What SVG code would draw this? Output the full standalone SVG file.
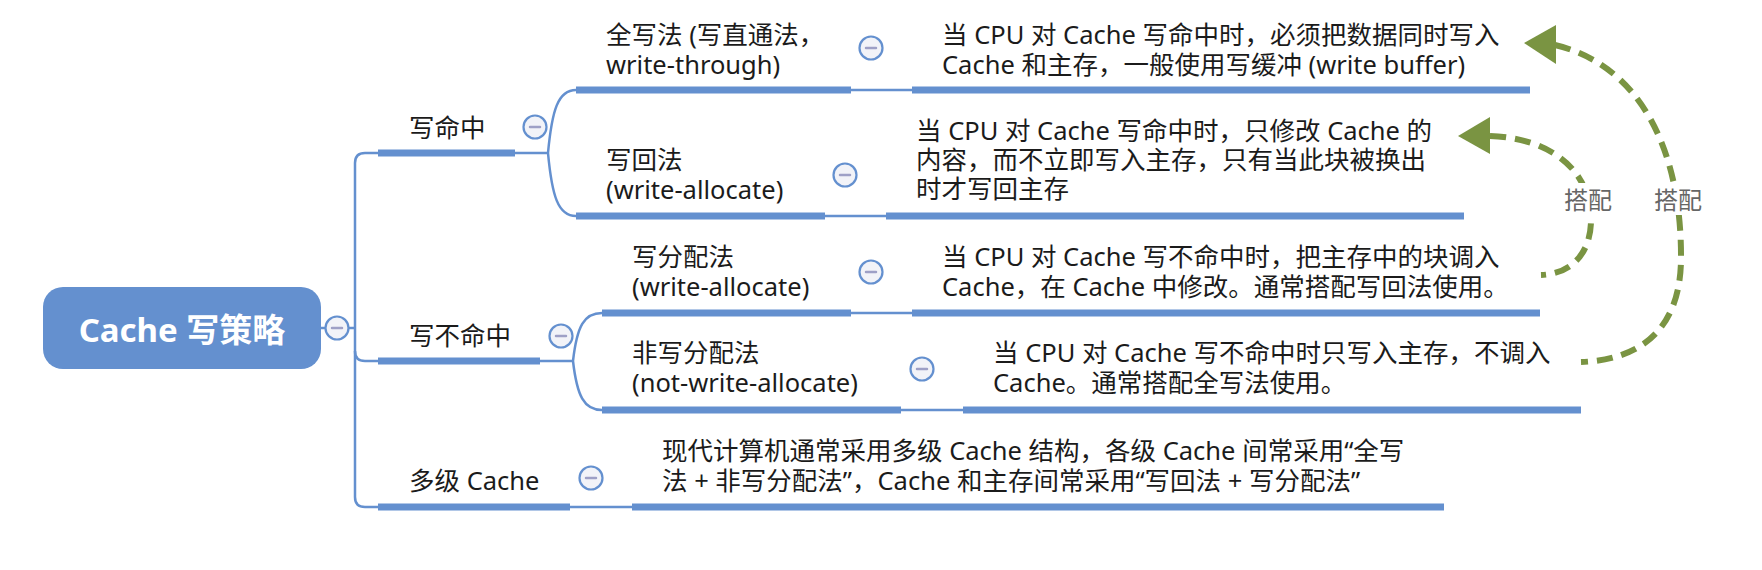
<svg xmlns="http://www.w3.org/2000/svg" width="1762" height="570" viewBox="0 0 1762 570">
<style>
.bar{fill:#6490CF}
.ln{fill:none;stroke:#6490CF;stroke-width:2.5}
.col circle{fill:#F2F3F8;stroke:#6490CF;stroke-width:2.2}
.col line{stroke:#9EA0C6;stroke-width:2.5;stroke-linecap:round}
.t{font-family:'Noto Sans','Noto Sans CJK SC',sans-serif;font-size:25.5px;fill:#1b1b1b}
.root{font-family:'Noto Sans','Noto Sans CJK SC',sans-serif;font-size:33px;font-weight:bold;fill:#ffffff}
.g{fill:none;stroke:#7A9442;stroke-width:6;stroke-dasharray:16 9}
.ah{fill:#7A9442}
.lbl{font-family:'Noto Sans','Noto Sans CJK SC',sans-serif;font-size:24px;fill:#666666}
</style>
<rect width="1762" height="570" fill="#ffffff"/>
<g id="connectors">
  <line class="ln" x1="321" y1="328" x2="355" y2="328"/>
  <path class="ln" d="M378,153 L365,153 Q355,153 355,163 L355,497 Q355,507 365,507 L378,507"/>
  <path class="ln" d="M355,351 Q355,361 365,361 L378,361"/>
  <path class="ln" d="M515,153 L548,153 M548,153 C552,110 558,90 576,90 M548,153 C552,196 558,216 576,216"/>
  <path class="ln" d="M540,361 L573,361 M573,361 C577,326 584,313 602,313 M573,361 C577,396 584,410 602,410"/>
  <line class="ln" x1="570" y1="507" x2="632" y2="507"/>
  <line class="ln" x1="851" y1="90" x2="912" y2="90"/>
  <line class="ln" x1="825" y1="216" x2="886" y2="216"/>
  <line class="ln" x1="851" y1="313" x2="912" y2="313"/>
  <line class="ln" x1="901" y1="410" x2="963" y2="410"/>
  <path class="g" d="M1555,45 C1640,65 1682,150 1681,260 C1680,330 1640,360 1581,362"/>
  <polygon class="ah" points="1524,43 1556,25 1556,64"/>
  <path class="g" d="M1490,136 C1550,138 1592,170 1591,222 C1590,255 1570,274 1541,275"/>
  <polygon class="ah" points="1458,136 1490,117 1490,154"/>
  <rect x="1561" y="183" width="54" height="32" fill="#ffffff"/>
  <text class="lbl" x="1588" y="209" text-anchor="middle">搭配</text>
  <rect x="1651" y="183" width="54" height="32" fill="#ffffff"/>
  <text class="lbl" x="1678" y="209" text-anchor="middle">搭配</text>
</g>
<g id="root">
  <rect x="43" y="287" width="278" height="82" rx="20" fill="#6490CF"/>
  <text class="root" x="182" y="342" text-anchor="middle">Cache 写策略</text>
  <g class="col"><circle cx="337" cy="328" r="11.5"/><line x1="332" y1="328" x2="342" y2="328"/></g>
</g>
<g id="write-hit">
  <rect class="bar" x="378" y="149.5" width="137" height="7"/>
  <text class="t" x="409" y="137">写命中</text>
  <g class="col"><circle cx="535" cy="127" r="11.5"/><line x1="530" y1="127" x2="540" y2="127"/></g>
</g>
<g id="write-miss">
  <rect class="bar" x="378" y="357.5" width="162" height="7"/>
  <text class="t" x="409" y="345">写不命中</text>
  <g class="col"><circle cx="561" cy="336" r="11.5"/><line x1="556" y1="336" x2="566" y2="336"/></g>
</g>
<g id="multi-cache">
  <rect class="bar" x="378" y="503.5" width="192" height="7"/>
  <text class="t" x="409" y="490">多级 Cache</text>
  <g class="col"><circle cx="591" cy="478" r="11.5"/><line x1="586" y1="478" x2="596" y2="478"/></g>
</g>
<g id="write-through">
  <rect class="bar" x="576" y="86.5" width="275" height="7"/>
  <text class="t" x="606" y="44">全写法 (写直通法，<tspan x="606" dy="30">write-through)</tspan></text>
  <g class="col"><circle cx="871" cy="48" r="11.5"/><line x1="866" y1="48" x2="876" y2="48"/></g>
</g>
<g id="write-through-desc">
  <rect class="bar" x="912" y="86.5" width="618" height="7"/>
  <text class="t" x="942" y="44">当 CPU 对 Cache 写命中时，必须把数据同时写入<tspan x="942" dy="30">Cache 和主存，一般使用写缓冲 (write buffer)</tspan></text>
</g>
<g id="write-back">
  <rect class="bar" x="576" y="212.5" width="249" height="7"/>
  <text class="t" x="606" y="169">写回法<tspan x="606" dy="30">(write-allocate)</tspan></text>
  <g class="col"><circle cx="845" cy="175" r="11.5"/><line x1="840" y1="175" x2="850" y2="175"/></g>
</g>
<g id="write-back-desc">
  <rect class="bar" x="886" y="212.5" width="578" height="7"/>
  <text class="t" x="916" y="140">当 CPU 对 Cache 写命中时，只修改 Cache 的<tspan x="916" dy="29">内容，而不立即写入主存，只有当此块被换出</tspan><tspan x="916" dy="29">时才写回主存</tspan></text>
</g>
<g id="write-allocate">
  <rect class="bar" x="602" y="309.5" width="249" height="7"/>
  <text class="t" x="632" y="266">写分配法<tspan x="632" dy="30">(write-allocate)</tspan></text>
  <g class="col"><circle cx="871" cy="272" r="11.5"/><line x1="866" y1="272" x2="876" y2="272"/></g>
</g>
<g id="write-allocate-desc">
  <rect class="bar" x="912" y="309.5" width="628" height="7"/>
  <text class="t" x="942" y="266">当 CPU 对 Cache 写不命中时，把主存中的块调入<tspan x="942" dy="30">Cache，在 Cache 中修改。通常搭配写回法使用。</tspan></text>
</g>
<g id="not-write-allocate">
  <rect class="bar" x="602" y="406.5" width="299" height="7"/>
  <text class="t" x="632" y="362">非写分配法<tspan x="632" dy="30">(not-write-allocate)</tspan></text>
  <g class="col"><circle cx="922" cy="369" r="11.5"/><line x1="917" y1="369" x2="927" y2="369"/></g>
</g>
<g id="not-write-allocate-desc">
  <rect class="bar" x="963" y="406.5" width="618" height="7"/>
  <text class="t" x="993" y="362">当 CPU 对 Cache 写不命中时只写入主存，不调入<tspan x="993" dy="30">Cache。通常搭配全写法使用。</tspan></text>
</g>
<g id="multi-cache-desc">
  <rect class="bar" x="632" y="503.5" width="812" height="7"/>
  <text class="t" x="662" y="460">现代计算机通常采用多级 Cache 结构，各级 Cache 间常采用“全写<tspan x="662" dy="30">法 + 非写分配法”，Cache 和主存间常采用“写回法 + 写分配法”</tspan></text>
</g>
</svg>
